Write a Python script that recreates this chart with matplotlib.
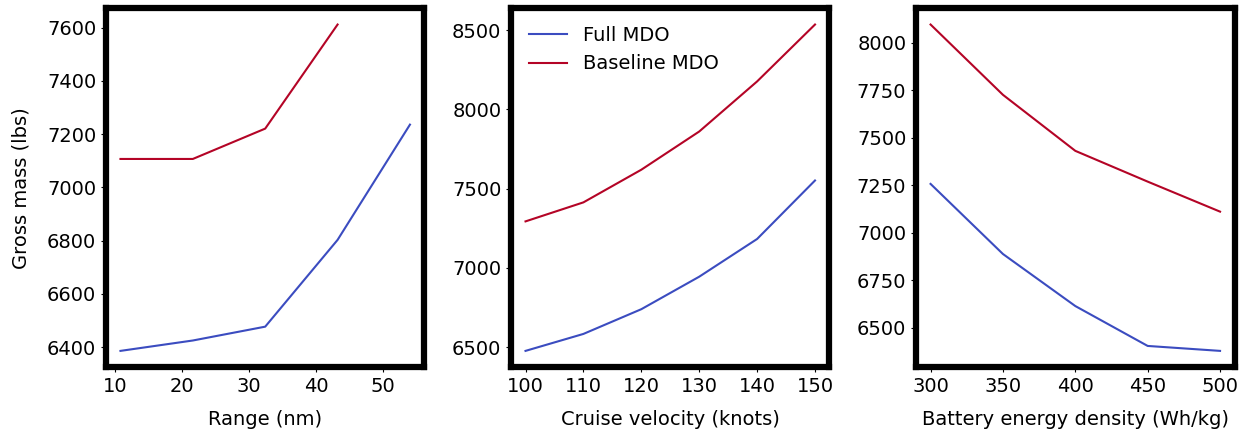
import matplotlib
matplotlib.use("Agg")
import matplotlib.pyplot as plt

# Range sweep
range_full = [10.8, 21.6, 32.4, 43.2, 54.0]
mass_range_full = [6386, 6425, 6477, 6803, 7236]
range_base = [10.8, 21.6, 32.4, 43.2]
mass_range_base = [7107, 7107, 7221, 7612]

# Cruise velocity sweep
velocity = [100, 110, 120, 130, 140, 150]
mass_vel_full = [6477, 6584, 6740, 6945, 7183, 7552]
mass_vel_base = [7294, 7414, 7620, 7861, 8177, 8536]

# Battery energy density sweep
energy = [300, 350, 400, 450, 500]
mass_batt_full = [7258, 6889, 6615, 6405, 6379]
mass_batt_base = [8097, 7727, 7432, 7270, 7112]

blue = "#3b4cc0"
red = "#b40426"

plt.rcParams["font.size"] = 14

fig, axs = plt.subplots(1, 3, figsize=(12.47, 4.32), dpi=100)
fig.subplots_adjust(left=0.085, right=0.99, bottom=0.15, top=0.981, wspace=0.272)

axs[0].plot(range_full, mass_range_full, color=blue, lw=1.5, label="Full MDO")
axs[0].plot(range_base, mass_range_base, color=red, lw=1.5, label="Baseline MDO")
axs[0].set_xlabel("Range (nm)", labelpad=10)
axs[0].set_ylabel("Gross mass (lbs)", labelpad=12)
axs[0].set_xticks([10, 20, 30, 40, 50])

axs[1].plot(velocity, mass_vel_full, color=blue, lw=1.5, label="Full MDO")
axs[1].plot(velocity, mass_vel_base, color=red, lw=1.5, label="Baseline MDO")
axs[1].set_xlabel("Cruise velocity (knots)", labelpad=10)
axs[1].set_xticks(velocity)
axs[1].set_yticks([6500, 7000, 7500, 8000, 8500])
axs[1].legend(loc="upper left", frameon=False)

axs[2].plot(energy, mass_batt_full, color=blue, lw=1.5)
axs[2].plot(energy, mass_batt_base, color=red, lw=1.5)
axs[2].set_xlabel("Battery energy density (Wh/kg)", labelpad=10)
axs[2].set_xticks(energy)
axs[2].set_yticks([6500, 6750, 7000, 7250, 7500, 7750, 8000])

for ax in axs:
    for sp in ax.spines.values():
        sp.set_linewidth(4.5)

fig.savefig("out.png", dpi=100)
